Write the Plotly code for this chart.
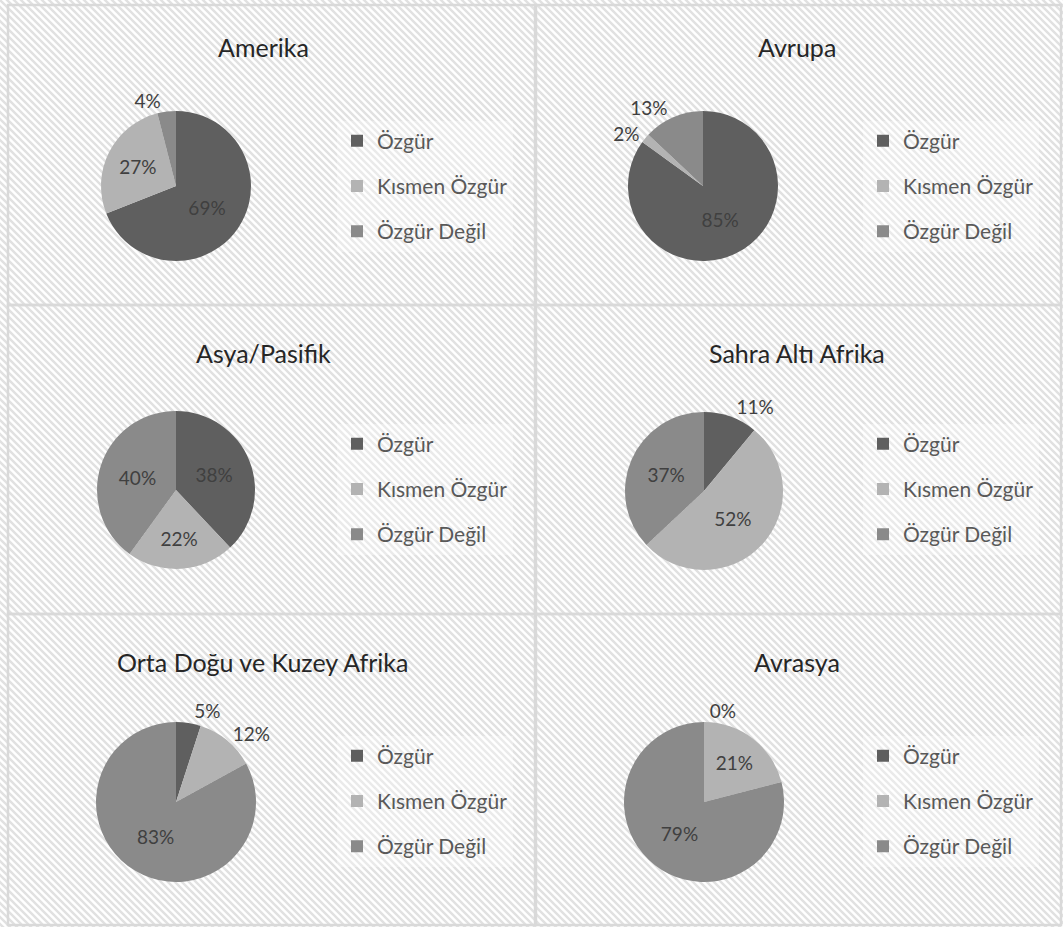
import base64
import plotly.graph_objects as go

# data
regions = ["Amerika", "Avrupa", "Asya/Pasifik", "Sahra Altı Afrika",
           "Orta Doğu ve Kuzey Afrika", "Avrasya"]
categories = ["Özgür", "Kısmen Özgür", "Özgür Değil"]
amerika = [69, 27, 4]
avrupa = [85, 2, 13]
asya_pasifik = [38, 22, 40]
sahra_alti = [11, 52, 37]
orta_dogu = [5, 12, 83]
avrasya = [0, 21, 79]
values = [amerika, avrupa, asya_pasifik, sahra_alti, orta_dogu, avrasya]

# which labels Excel put outside the pie
text_pos = [
    ["inside", "inside", "outside"],
    ["inside", "outside", "outside"],
    ["inside", "inside", "inside"],
    ["outside", "inside", "inside"],
    ["outside", "outside", "inside"],
    ["outside", "inside", "inside"],
]

colors = ["#5f5f5f", "#b3b3b3", "#8a8a8a"]
FONT = "Lato"
W, H = 1063, 927


def px(x):
    return x / W


def py(y):
    return 1 - y / H


# panel layout in pixels
col_x = [(8, 535), (536, 1061)]
row_y = [(5, 305), (305, 614), (614, 925)]
pie_c = [(176, 186, 75), (703, 186, 75),
         (176, 490, 79), (704, 491, 79),
         (176, 802, 80), (704, 802, 80)]
title_x = [263, 797]
title_y = [47, 353, 662]
legend_mid = [186, 489, 801]

# hatched background as an svg image
svg = f"""<svg xmlns='http://www.w3.org/2000/svg' width='{W}' height='{H}'>
<defs><pattern id='h' patternUnits='userSpaceOnUse' width='7' height='7'>
<rect width='7' height='7' fill='#ffffff'/>
<path d='M-1,-1 L8,8 M-1,6 L1,8 M6,-1 L8,1' stroke='#e1e1e1' stroke-width='2.4'/>
</pattern></defs>
<rect width='{W}' height='{H}' fill='url(#h)'/>
</svg>"""
bg_src = "data:image/svg+xml;base64," + base64.b64encode(svg.encode()).decode()

fig = go.Figure()

layout_extra = {}
annotations = []
for i, (name, vals) in enumerate(zip(regions, values)):
    r, c = divmod(i, 2)
    cx, cy, rad = pie_c[i]
    fig.add_trace(go.Pie(
        labels=categories,
        values=vals,
        sort=False,
        direction="clockwise",
        rotation=0,
        marker=dict(colors=colors, line=dict(width=0)),
        texttemplate="%{value}%",
        textposition=text_pos[i],
        insidetextorientation="horizontal",
        textfont=dict(family=FONT, size=19, color="#404040"),
        domain=dict(x=[px(cx - rad), px(cx + rad)], y=[py(cy + rad), py(cy - rad)]),
        showlegend=False,
        hoverinfo="label+percent",
    ))

    # legend entries for this panel
    leg = "legend" if i == 0 else f"legend{i + 1}"
    for k, cat in enumerate(categories):
        fig.add_trace(go.Scatter(
            x=[None], y=[None], mode="markers", name=cat,
            marker=dict(symbol="square", size=12, color=colors[k]),
            legend=leg, legendgroup=f"{i}-{k}",
        ))
    lx = col_x[c][0] + (329 if c == 0 else 327)
    layout_extra[leg] = dict(
        x=px(lx), y=py(legend_mid[r]), xanchor="left", yanchor="middle",
        bgcolor="rgba(255,255,255,0.3)", tracegroupgap=15, itemwidth=30,
        font=dict(family=FONT, size=21, color="#595959"),
    )

    annotations.append(dict(
        text=name, x=px(title_x[c]), y=py(title_y[r]),
        xref="paper", yref="paper", showarrow=False,
        xanchor="center", yanchor="middle",
        font=dict(family=FONT, size=25, color="#262626"),
    ))

# panel borders
shapes = []
for (x0, x1) in col_x:
    for (y0, y1) in row_y:
        shapes.append(dict(type="rect", xref="paper", yref="paper",
                           x0=px(x0), x1=px(x1), y0=py(y1), y1=py(y0),
                           line=dict(color="#d9d9d9", width=2.5)))

fig.update_layout(
    width=W, height=H,
    margin=dict(l=0, r=0, t=0, b=0),
    paper_bgcolor="white",
    plot_bgcolor="rgba(0,0,0,0)",
    xaxis=dict(visible=False),
    yaxis=dict(visible=False),
    uniformtext=dict(minsize=19, mode="show"),
    images=[dict(source=bg_src, xref="paper", yref="paper", x=0, y=1,
                 sizex=1, sizey=1, xanchor="left", yanchor="top",
                 sizing="stretch", layer="below")],
    annotations=annotations,
    shapes=shapes,
    **layout_extra,
)

# no page margin, and no leader lines on moved outside labels
page_js = """
document.body.style.margin = '0';
var st = document.createElement('style');
st.textContent = 'path.textline { display: none; }';
document.head.appendChild(st);
"""
fig.write_html("out.html", post_script=page_js,
               config={"displayModeBar": False})
